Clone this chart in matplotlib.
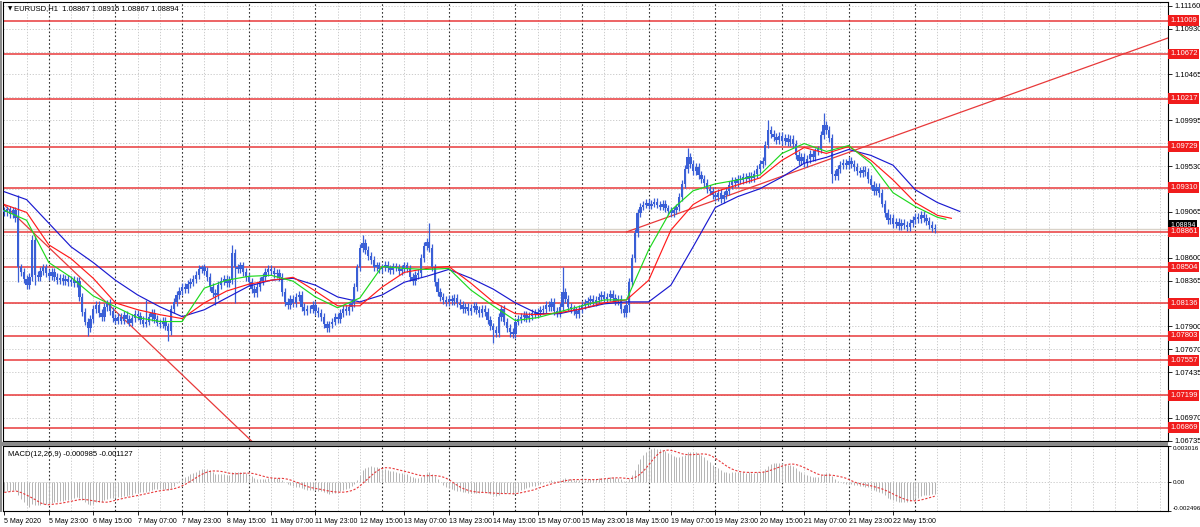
import matplotlib
matplotlib.use("Agg")
import matplotlib.pyplot as plt
from matplotlib.patches import Rectangle
import numpy as np
import pandas as pd

plt.rcParams['font.family'] = ['Liberation Sans', 'DejaVu Sans']

# ---- data -------------------------------------------------------------
# hourly closes in pips above 1.07000, one row = 16 bars (one x label step)
close_pips = [
    206, 209, 204, 208, 200, 150, 145, 138, 132, 140, 178, 142, 140, 146, 150, 144,
    141, 145, 140, 137, 139, 136, 138, 135, 137, 134, 136, 120, 105, 95, 88, 98,
    108, 112, 104, 100, 110, 114, 106, 99, 96, 100, 96, 102, 98, 94, 99, 103,
    101, 97, 93, 95, 100, 104, 98, 94, 92, 96, 90, 85, 108, 115, 122, 126,
    130, 128, 133, 135, 138, 142, 148, 150, 146, 140, 130, 124, 122, 132, 136, 138,
    134, 137, 165, 150, 148, 152, 145, 140, 135, 128, 124, 130, 136, 140, 145, 148,
    146, 143, 144, 140, 125, 115, 112, 118, 114, 120, 122, 110, 106, 108, 108, 112,
    106, 104, 100, 92, 88, 92, 95, 100, 98, 104, 108, 106, 110, 114, 130, 150,
    170, 175, 168, 162, 158, 150, 152, 148, 150, 153, 149, 147, 151, 150, 146, 148,
    152, 149, 140, 136, 142, 144, 160, 172, 176, 170, 150, 135, 125, 120, 117, 115,
    118, 116, 119, 114, 112, 108, 110, 106, 109, 111, 107, 104, 108, 105, 97, 90,
    86, 83, 100, 108, 95, 88, 84, 82, 95, 98, 100, 102, 99, 101, 104, 103,
    105, 107, 108, 112, 110, 115, 106, 104, 110, 125, 118, 110, 108, 106, 103, 108,
    112, 114, 116, 118, 115, 117, 120, 122, 118, 120, 123, 119, 116, 118, 108, 104,
    112, 135, 160, 185, 205, 212, 214, 216, 213, 215, 217, 214, 212, 215, 210, 207,
    205, 208, 211, 222, 235, 250, 262, 255, 248, 252, 244, 240, 236, 230, 228, 224,
    222, 226, 220, 224, 228, 234, 238, 236, 240, 239, 242, 240, 243, 241, 245, 250,
    255, 258, 275, 290, 286, 283, 280, 284, 279, 282, 278, 281, 276, 264, 258, 262,
    256, 260, 265, 262, 268, 270, 285, 295, 290, 282, 245, 243, 250, 254, 256, 254,
    258, 255, 252, 248, 246, 249, 247, 240, 234, 228, 232, 226, 215, 205, 198, 200,
    194, 196, 192, 195, 193, 191, 195, 198, 201, 199, 203, 200, 197, 193, 190, 189,
]
first_open_pips = 208
wick_pips = 4
# bars with long shadows: index -> (high, low) in pips, None = normal
spikes = {5: (224, 135), 10: (183, None), 11: (None, 132), 30: (None, 80),
          37: (117, None), 51: (117, None), 59: (None, 75), 71: (153, None),
          76: (None, 112), 82: (173, None), 83: (None, 114), 116: (None, 84),
          129: (183, None), 153: (195, None), 176: (None, 73), 182: (None, 79),
          201: (150, None), 225: (None, 105), 246: (272, None), 275: (300, None),
          295: (307, None), 298: (None, 236)}

# Alligator lines (pips above 1.07000), sampled every 8 bars, last point = shifted end
jaw_pips = [227, 219, 195, 171, 155, 137, 122, 110, 100, 107, 119, 131, 137, 139, 132, 120,
            115, 122, 135, 141, 148, 139, 128, 114, 103, 103, 108, 113, 115, 115, 132, 171,
            211, 222, 230, 242, 256, 262, 270, 264, 254, 229, 216, 207]
teeth_pips = [214, 206, 173, 159, 139, 114, 107, 102, 98, 114, 126, 133, 137, 140, 126, 111,
              111, 130, 145, 149, 151, 134, 115, 103, 102, 104, 108, 114, 117, 137, 188, 214,
              227, 234, 241, 259, 272, 266, 273, 259, 239, 216, 203, 200]
lips_pips = [208, 198, 155, 140, 121, 110, 99, 95, 95, 129, 137, 141, 142, 136, 120, 109,
             119, 151, 149, 148, 149, 127, 111, 96, 99, 105, 111, 117, 117, 168, 208, 228,
             235, 239, 244, 266, 276, 268, 274, 256, 226, 212, 201, 199]
jaw_end, teeth_end, lips_end = 344, 341, 339

# MACD(12,26,9) seeds = average levels before the visible window
ema_fast_seed = 1.0906
ema_slow_seed = 1.0916

levels = [1.11009, 1.10672, 1.10217, 1.09729, 1.09310, 1.08861,
          1.08504, 1.08136, 1.07803, 1.07557, 1.07199, 1.06869]
bid = 1.08894
trend_down = [(0, 1.09135), (89, 1.06735)]
trend_up = [(224, 1.08861), (419, 1.10834)]

price_ticks = [1.11160, 1.10930, 1.10695, 1.10465, 1.10230, 1.09995, 1.09765,
               1.09530, 1.09295, 1.09065, 1.08830, 1.08600, 1.08365, 1.08135,
               1.07900, 1.07670, 1.07435, 1.07200, 1.06970, 1.06735]
time_labels = ["5 May 2020", "5 May 23:00", "6 May 15:00", "7 May 07:00", "7 May 23:00",
               "8 May 15:00", "11 May 07:00", "11 May 23:00", "12 May 15:00",
               "13 May 07:00", "13 May 23:00", "14 May 15:00", "15 May 07:00",
               "15 May 23:00", "18 May 15:00", "19 May 07:00", "19 May 23:00",
               "20 May 15:00", "21 May 07:00", "21 May 23:00", "22 May 15:00"]
macd_top, macd_bottom = 0.003016, -0.002496

# ---- derived ----------------------------------------------------------
base = 1.07
close = base + np.array(close_pips) / 10000
n = len(close)
idx = np.arange(n)
opn = np.r_[base + first_open_pips / 10000, close[:-1]]
high = np.maximum(opn, close) + wick_pips / 10000
low = np.minimum(opn, close) - wick_pips / 10000
for i, (h, l) in spikes.items():
    if h is not None:
        high[i] = base + h / 10000
    if l is not None:
        low[i] = base + l / 10000

ema12 = pd.Series(np.r_[ema_fast_seed, close]).ewm(span=12, adjust=False).mean().values[1:]
ema26 = pd.Series(np.r_[ema_slow_seed, close]).ewm(span=26, adjust=False).mean().values[1:]
macd = ema12 - ema26
signal = pd.Series(macd).rolling(9, min_periods=1).mean().values

# ---- figure -----------------------------------------------------------
W, H = 1200, 527
fig = plt.figure(figsize=(W / 100, H / 100), dpi=100, facecolor='white')
ax = fig.add_axes([3 / W, 1 - 441 / H, 1165 / W, 439 / H])
ax2 = fig.add_axes([3 / W, 1 - 511 / H, 1165 / W, 65 / H])
fig.add_artist(Rectangle((0, 1 - 446 / H), 1168 / W, 4 / H, transform=fig.transFigure,
                         color='#8a8a8a', lw=0))
fig.add_artist(Rectangle((0, 1 - 512 / H), 2 / W, 511 / H, transform=fig.transFigure,
                         color='#8a8a8a', lw=0))

xmax = 419
for a in (ax, ax2):
    a.set_xlim(-0.5, xmax)
    for g in range(0, xmax, 8):
        if g <= 336 and (g - 16) % 24 == 0:
            a.axvline(g, color='#303030', lw=0.8, ls=(0, (1.5, 2)), zorder=0)
        elif g > 0:
            a.axvline(g, color='#c4c4c4', lw=0.6, ls=(0, (1.5, 2)), zorder=0)
    for s in a.spines.values():
        s.set_color('black')
        s.set_linewidth(0.8)

ax.set_ylim(1.06735, 1.11200)
for t in price_ticks:
    ax.axhline(t, color='#c4c4c4', lw=0.6, ls=(0, (1.5, 2)), zorder=0)

blue = '#3a5fd6'
ax.vlines(idx, low, high, color=blue, lw=0.9, zorder=3)
body = np.maximum(np.abs(close - opn), 0.00002)
ax.bar(idx, body, bottom=np.minimum(opn, close), width=0.85, color=blue, lw=0, zorder=3)

ax.plot(np.arange(0, jaw_end + 1, 8), base + np.array(jaw_pips) / 10000, color='#1a1ad0', lw=0.85, zorder=4)
ax.plot(np.r_[np.arange(0, 337, 8), teeth_end], base + np.array(teeth_pips) / 10000, color='#ff1a1a', lw=0.85, zorder=4)
ax.plot(np.r_[np.arange(0, 337, 8), lips_end], base + np.array(lips_pips) / 10000, color='#1ed81e', lw=0.85, zorder=4)

ax.axhline(bid, color='#d9d2c8', lw=1.0, zorder=1)
for p in levels:
    ax.axhline(p, color='#e8393a', lw=1.1, zorder=2)
ax.axline(trend_down[0], trend_down[1], color='#e8393a', lw=0.9, zorder=2)
(x1, y1), (x2, y2) = trend_up
ax.plot([x1, x2], [y1, y2], color='#e8393a', lw=0.9, zorder=2)

# price scale: labels hidden under a level box are left out, as in the terminal
shown = [t for t in price_ticks if min(abs(t - p) for p in levels) > 0.0004]
ax.set_xticks([])
ax.yaxis.tick_right()
ax.set_yticks(price_ticks)
ax.set_yticklabels([f"{t:.5f}" if t in shown else "" for t in price_ticks])
ax.tick_params(axis='y', labelsize=5.5, length=3, pad=2, width=0.6)

box = dict(boxstyle='square,pad=0.25', ec='none')
ax.annotate(f"{bid:.5f}", xy=(1, bid), xycoords=ax.get_yaxis_transform(), xytext=(2, 3),
            textcoords='offset pixels', ha='left', va='center', fontsize=5, color='white',
            bbox=dict(box, fc='black'), zorder=6, annotation_clip=False)
for p in levels:
    ax.annotate(f"{p:.5f}", xy=(1, p), xycoords=ax.get_yaxis_transform(), xytext=(2, 0),
                textcoords='offset pixels', ha='left', va='center', fontsize=5.5, color='white',
                bbox=dict(box, fc='#f01c1c'), zorder=7, annotation_clip=False)

ax.text(0.004, 0.991, "\u25bc", transform=ax.transAxes, fontsize=4, va='top',
        family=['DejaVu Sans'])
ax.text(0.0095, 0.993, "EURUSD,H1  1.08867 1.08915 1.08867 1.08894", transform=ax.transAxes,
        fontsize=5.5, va='top')

# MACD panel
ax2.set_ylim(macd_bottom, macd_top)
ax2.axhline(0, color='#c4c4c4', lw=0.6, ls=(0, (1.5, 2)), zorder=0)
ax2.vlines(idx, 0, macd, color='#b4b4b4', lw=0.7, zorder=2)
ax2.plot(idx, signal, color='#e8393a', lw=0.8, ls=(0, (2, 1.5)), zorder=3)
ax2.text(0.004, 0.93, "MACD(12,26,9) -0.000985 -0.001127", transform=ax2.transAxes,
         fontsize=5.5, va='top')
ax2.yaxis.tick_right()
ax2.set_yticks([macd_bottom, 0, macd_top])
ax2.set_yticklabels(["-0.002496", "0.00", "0.003016"])
ax2.tick_params(axis='y', labelsize=4.5, length=2.5, pad=1, width=0.6)
yl = ax2.get_yticklabels()
yl[0].set_va('bottom')
yl[2].set_va('top')

ax2.set_xticks(np.arange(0, 16 * len(time_labels), 16))
ax2.set_xticklabels(time_labels)
ax2.tick_params(axis='x', labelsize=5, length=3, pad=2, width=0.6)
for lab in ax2.get_xticklabels():
    lab.set_ha('left')

fig.savefig("out.png", dpi=100, facecolor='white')
